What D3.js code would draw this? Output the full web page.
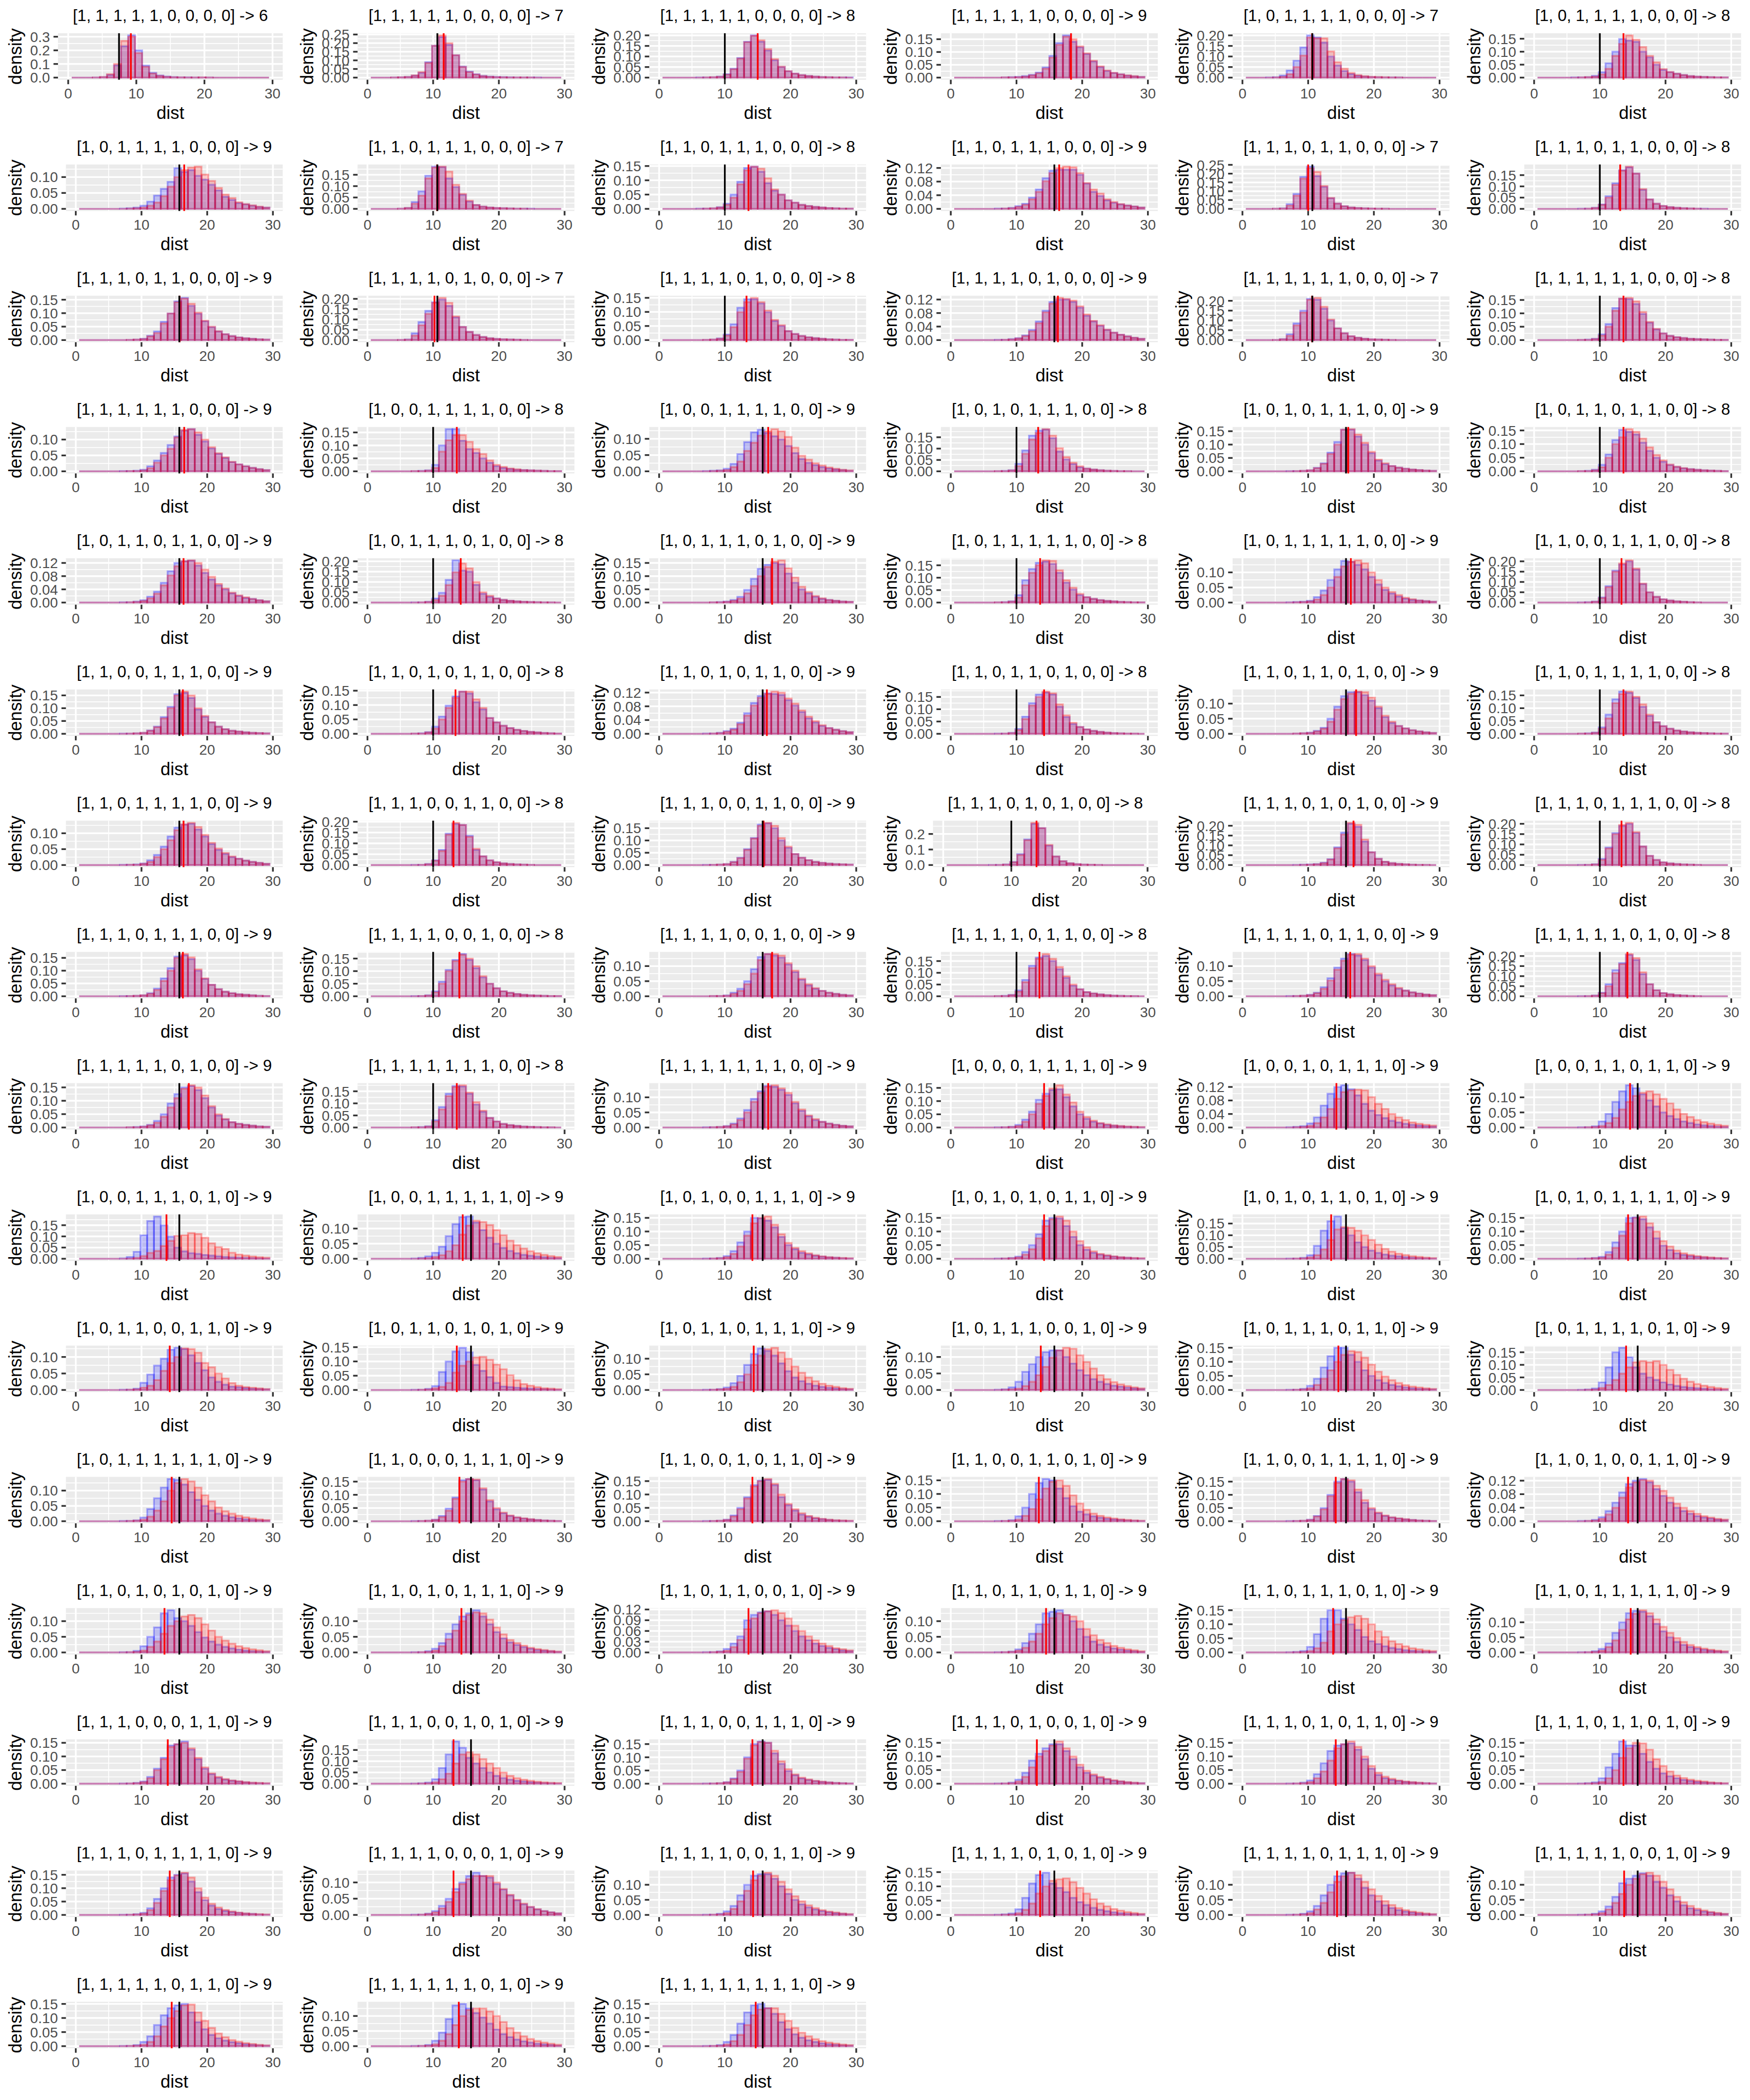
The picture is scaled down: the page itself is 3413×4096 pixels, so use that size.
<!DOCTYPE html>
<html><head><meta charset="utf-8">
<script src="https://cdn.jsdelivr.net/npm/d3@7"></script>
<style>html,body{margin:0;padding:0;background:#fff;}svg{display:block;}</style>
</head><body>
<script>
// ---------- DATA ----------
const titles = [
"[1, 1, 1, 1, 1, 0, 0, 0, 0] -> 6","[1, 1, 1, 1, 1, 0, 0, 0, 0] -> 7","[1, 1, 1, 1, 1, 0, 0, 0, 0] -> 8","[1, 1, 1, 1, 1, 0, 0, 0, 0] -> 9","[1, 0, 1, 1, 1, 1, 0, 0, 0] -> 7","[1, 0, 1, 1, 1, 1, 0, 0, 0] -> 8",
"[1, 0, 1, 1, 1, 1, 0, 0, 0] -> 9","[1, 1, 0, 1, 1, 1, 0, 0, 0] -> 7","[1, 1, 0, 1, 1, 1, 0, 0, 0] -> 8","[1, 1, 0, 1, 1, 1, 0, 0, 0] -> 9","[1, 1, 1, 0, 1, 1, 0, 0, 0] -> 7","[1, 1, 1, 0, 1, 1, 0, 0, 0] -> 8",
"[1, 1, 1, 0, 1, 1, 0, 0, 0] -> 9","[1, 1, 1, 1, 0, 1, 0, 0, 0] -> 7","[1, 1, 1, 1, 0, 1, 0, 0, 0] -> 8","[1, 1, 1, 1, 0, 1, 0, 0, 0] -> 9","[1, 1, 1, 1, 1, 1, 0, 0, 0] -> 7","[1, 1, 1, 1, 1, 1, 0, 0, 0] -> 8",
"[1, 1, 1, 1, 1, 1, 0, 0, 0] -> 9","[1, 0, 0, 1, 1, 1, 1, 0, 0] -> 8","[1, 0, 0, 1, 1, 1, 1, 0, 0] -> 9","[1, 0, 1, 0, 1, 1, 1, 0, 0] -> 8","[1, 0, 1, 0, 1, 1, 1, 0, 0] -> 9","[1, 0, 1, 1, 0, 1, 1, 0, 0] -> 8",
"[1, 0, 1, 1, 0, 1, 1, 0, 0] -> 9","[1, 0, 1, 1, 1, 0, 1, 0, 0] -> 8","[1, 0, 1, 1, 1, 0, 1, 0, 0] -> 9","[1, 0, 1, 1, 1, 1, 1, 0, 0] -> 8","[1, 0, 1, 1, 1, 1, 1, 0, 0] -> 9","[1, 1, 0, 0, 1, 1, 1, 0, 0] -> 8",
"[1, 1, 0, 0, 1, 1, 1, 0, 0] -> 9","[1, 1, 0, 1, 0, 1, 1, 0, 0] -> 8","[1, 1, 0, 1, 0, 1, 1, 0, 0] -> 9","[1, 1, 0, 1, 1, 0, 1, 0, 0] -> 8","[1, 1, 0, 1, 1, 0, 1, 0, 0] -> 9","[1, 1, 0, 1, 1, 1, 1, 0, 0] -> 8",
"[1, 1, 0, 1, 1, 1, 1, 0, 0] -> 9","[1, 1, 1, 0, 0, 1, 1, 0, 0] -> 8","[1, 1, 1, 0, 0, 1, 1, 0, 0] -> 9","[1, 1, 1, 0, 1, 0, 1, 0, 0] -> 8","[1, 1, 1, 0, 1, 0, 1, 0, 0] -> 9","[1, 1, 1, 0, 1, 1, 1, 0, 0] -> 8",
"[1, 1, 1, 0, 1, 1, 1, 0, 0] -> 9","[1, 1, 1, 1, 0, 0, 1, 0, 0] -> 8","[1, 1, 1, 1, 0, 0, 1, 0, 0] -> 9","[1, 1, 1, 1, 0, 1, 1, 0, 0] -> 8","[1, 1, 1, 1, 0, 1, 1, 0, 0] -> 9","[1, 1, 1, 1, 1, 0, 1, 0, 0] -> 8",
"[1, 1, 1, 1, 1, 0, 1, 0, 0] -> 9","[1, 1, 1, 1, 1, 1, 1, 0, 0] -> 8","[1, 1, 1, 1, 1, 1, 1, 0, 0] -> 9","[1, 0, 0, 0, 1, 1, 1, 1, 0] -> 9","[1, 0, 0, 1, 0, 1, 1, 1, 0] -> 9","[1, 0, 0, 1, 1, 0, 1, 1, 0] -> 9",
"[1, 0, 0, 1, 1, 1, 0, 1, 0] -> 9","[1, 0, 0, 1, 1, 1, 1, 1, 0] -> 9","[1, 0, 1, 0, 0, 1, 1, 1, 0] -> 9","[1, 0, 1, 0, 1, 0, 1, 1, 0] -> 9","[1, 0, 1, 0, 1, 1, 0, 1, 0] -> 9","[1, 0, 1, 0, 1, 1, 1, 1, 0] -> 9",
"[1, 0, 1, 1, 0, 0, 1, 1, 0] -> 9","[1, 0, 1, 1, 0, 1, 0, 1, 0] -> 9","[1, 0, 1, 1, 0, 1, 1, 1, 0] -> 9","[1, 0, 1, 1, 1, 0, 0, 1, 0] -> 9","[1, 0, 1, 1, 1, 0, 1, 1, 0] -> 9","[1, 0, 1, 1, 1, 1, 0, 1, 0] -> 9",
"[1, 0, 1, 1, 1, 1, 1, 1, 0] -> 9","[1, 1, 0, 0, 0, 1, 1, 1, 0] -> 9","[1, 1, 0, 0, 1, 0, 1, 1, 0] -> 9","[1, 1, 0, 0, 1, 1, 0, 1, 0] -> 9","[1, 1, 0, 0, 1, 1, 1, 1, 0] -> 9","[1, 1, 0, 1, 0, 0, 1, 1, 0] -> 9",
"[1, 1, 0, 1, 0, 1, 0, 1, 0] -> 9","[1, 1, 0, 1, 0, 1, 1, 1, 0] -> 9","[1, 1, 0, 1, 1, 0, 0, 1, 0] -> 9","[1, 1, 0, 1, 1, 0, 1, 1, 0] -> 9","[1, 1, 0, 1, 1, 1, 0, 1, 0] -> 9","[1, 1, 0, 1, 1, 1, 1, 1, 0] -> 9",
"[1, 1, 1, 0, 0, 0, 1, 1, 0] -> 9","[1, 1, 1, 0, 0, 1, 0, 1, 0] -> 9","[1, 1, 1, 0, 0, 1, 1, 1, 0] -> 9","[1, 1, 1, 0, 1, 0, 0, 1, 0] -> 9","[1, 1, 1, 0, 1, 0, 1, 1, 0] -> 9","[1, 1, 1, 0, 1, 1, 0, 1, 0] -> 9",
"[1, 1, 1, 0, 1, 1, 1, 1, 0] -> 9","[1, 1, 1, 1, 0, 0, 0, 1, 0] -> 9","[1, 1, 1, 1, 0, 0, 1, 1, 0] -> 9","[1, 1, 1, 1, 0, 1, 0, 1, 0] -> 9","[1, 1, 1, 1, 0, 1, 1, 1, 0] -> 9","[1, 1, 1, 1, 1, 0, 0, 1, 0] -> 9",
"[1, 1, 1, 1, 1, 0, 1, 1, 0] -> 9","[1, 1, 1, 1, 1, 1, 0, 1, 0] -> 9","[1, 1, 1, 1, 1, 1, 1, 1, 0] -> 9"
];

// vertical reference lines (x = dist)
const blackLine = [7.46,10.64,10,15.76,10.64,10, 15.76,10.64,10,15.76,10.64,10, 15.76,10.64,10,15.76,10.64,10,
 15.76,10,15.76,10,15.76,10, 15.76,10,15.76,10,15.76,10, 15.76,10,15.76,10,15.76,10, 15.76,10,15.76,10,15.76,10,
 15.76,10,15.76,10,15.76,10, 15.76,10,15.76,15.76,15.76,15.76,
 15.76,15.76,15.76,15.76,15.76,15.76, 15.76,15.76,15.76,15.76,15.76,15.76, 15.76,15.76,15.76,15.76,15.76,15.76,
 15.76,15.76,15.76,15.76,15.76,15.76, 15.76,15.76,15.76,15.76,15.76,15.76, 15.76,15.76,15.76,15.76,15.76,15.76, 15.76,15.76,15.76];
const redLine = [9.2,11.6,15.0,18.3,10.6,13.6, 16.5,10.6,13.6,16.5,10.0,13.1, 15.8,10.2,13.3,16.3,10.6,13.6,
 16.5,13.6,16.6,13.3,16.1,13.6, 16.4,14.2,17.2,13.6,16.5,13.3, 16.3,13.4,16.4,14.2,17.3,13.6, 16.4,13.1,15.9,13.7,16.9,13.3,
 16.3,14.0,17.2,13.5,16.4,14.2, 17.2,13.6,16.6,14.2,14.3,14.6, 13.8,14.5,14.2,14.2,13.5,14.3, 14.3,13.6,14.4,13.7,14.6,14.0,
 14.6,14.0,14.2,13.4,14.2,14.3, 13.5,14.3,13.6,14.5,13.8,14.7, 14.0,13.1,14.2,13.1,14.2,13.6, 14.3,13.1,14.3,13.6,14.4,13.7,
 14.6,13.9,14.7];

// y-axis break step per panel
const yStep = [0.1,0.05,0.05,0.05,0.05,0.05, 0.05,0.05,0.05,0.04,0.05,0.05, 0.05,0.05,0.05,0.04,0.05,0.05,
 0.05,0.05,0.05,0.05,0.05,0.05, 0.04,0.05,0.05,0.05,0.05,0.05, 0.05,0.05,0.04,0.05,0.05,0.05, 0.05,0.05,0.05,0.1,0.05,0.05,
 0.05,0.05,0.05,0.05,0.05,0.05, 0.05,0.05,0.05,0.05,0.04,0.05, 0.05,0.05,0.05,0.05,0.05,0.05, 0.05,0.05,0.05,0.05,0.05,0.05,
 0.05,0.05,0.05,0.05,0.05,0.04, 0.05,0.05,0.03,0.05,0.05,0.05, 0.05,0.05,0.05,0.05,0.05,0.05, 0.05,0.05,0.05,0.05,0.05,0.05,
 0.05,0.05,0.05];

const xTicks = [0, 10, 20, 30];
const xMinor = [5, 15, 25];

// histogram densities, per mille (density x 1000), 28 bins of width 30/29
const blueDensPermille = [
[0,0,0,1,4,20,90,230,310,200,88,35,16,8,4,2,2,1,1,1,0,0,0,0,0,0,0,0],
[0,0,0,1,2,4,12,28,90,185,235,190,130,64,35,20,10,6,4,3,2,1,1,1,1,0,0,0],
[0,0,0,0,0,1,1,2,5,16,42,93,170,200,170,128,82,50,30,19,12,8,5,3,2,1,1,1],
[0,0,0,0,0,0,0,1,2,3,6,11,20,40,85,135,165,140,118,92,63,41,26,18,13,8,5,3],
[0,0,0,1,2,10,34,80,143,200,190,166,100,57,31,17,9,5,3,2,1,1,1,0,0,0,0,0],
[0,0,0,0,0,1,1,2,7,21,55,100,149,143,138,100,78,50,30,21,15,10,6,4,3,2,1,1],
[0,0,0,0,0,0,1,2,4,10,23,42,63,85,128,116,122,104,92,76,58,38,28,18,14,10,6,4],
[0,0,0,0,1,4,30,77,146,186,184,134,96,62,32,17,10,6,4,3,2,1,1,1,0,0,0,0],
[0,0,0,0,0,1,1,2,6,18,50,95,143,148,130,90,64,50,30,22,14,10,7,5,3,2,1,1],
[0,0,0,0,0,0,1,1,3,8,15,33,57,90,112,115,115,115,100,74,50,38,25,18,13,10,7,4],
[0,0,0,0,1,3,27,85,182,240,186,125,60,30,15,8,5,3,2,1,1,0,0,0,0,0,0,0],
[0,0,0,0,0,0,1,1,5,20,56,114,172,185,157,85,42,23,13,8,5,3,2,1,1,0,0,0],
[0,0,0,0,0,0,0,1,2,5,16,32,68,99,144,157,127,98,70,48,32,22,15,10,7,5,3,2],
[0,0,0,0,1,3,33,88,142,184,197,166,110,64,40,25,15,9,6,4,3,2,1,0,0,0,0,0],
[0,0,0,0,0,0,1,2,6,20,56,115,145,145,130,99,68,50,32,22,15,10,7,5,3,2,1,1],
[0,0,0,0,0,0,1,1,3,6,14,30,55,87,113,120,120,113,96,72,55,42,30,22,16,11,7,4],
[0,0,0,0,1,5,30,85,150,210,205,160,100,60,35,20,12,7,4,3,2,1,0,0,0,0,0,0],
[0,0,0,0,0,0,1,2,5,22,60,120,155,153,135,98,65,40,25,16,11,8,5,4,3,2,1,1],
[0,0,0,0,0,0,1,1,2,5,16,34,58,83,110,128,133,115,94,72,55,42,29,22,16,11,7,4],
[0,0,0,0,0,0,1,2,4,25,100,163,163,118,86,71,50,33,20,13,9,6,5,4,3,2,1,1],
[0,0,0,0,0,0,1,2,3,8,23,53,90,120,128,118,108,98,78,56,38,26,19,13,9,6,4,2],
[0,0,0,0,0,0,1,2,5,33,92,157,179,184,146,87,52,32,18,12,8,5,3,2,1,1,0,0],
[0,0,0,0,0,0,1,1,2,4,13,30,70,110,156,156,130,100,68,40,27,20,14,10,7,5,3,2],
[0,0,0,0,0,0,1,2,6,24,62,115,152,145,135,105,75,50,35,23,16,11,8,6,4,3,2,1],
[0,0,0,0,0,0,1,1,3,7,18,33,60,95,120,125,127,112,90,70,52,40,28,20,14,11,7,4],
[0,0,0,0,0,0,1,1,4,20,48,110,205,155,150,86,43,28,20,13,9,6,4,3,2,1,1,0],
[0,0,0,0,0,0,0,1,2,4,10,22,48,90,128,143,150,145,110,75,50,35,22,14,10,7,4,3],
[0,0,0,0,0,0,1,2,5,30,90,135,160,165,155,120,80,52,30,22,15,10,7,5,3,2,1,1],
[0,0,0,0,0,0,1,2,3,6,18,40,75,110,138,135,125,110,85,60,42,30,20,13,9,7,5,3],
[0,0,0,0,0,0,1,2,5,25,80,155,185,200,160,90,50,28,16,10,6,4,2,1,0,0,0,0],
[0,0,0,0,0,0,1,1,2,4,13,28,65,105,155,160,140,95,66,45,28,18,12,9,6,4,3,2],
[0,0,0,0,0,0,1,2,6,25,60,98,130,147,140,110,85,55,40,28,20,14,10,7,5,3,2,1],
[0,0,0,0,0,0,1,1,3,8,15,32,60,90,110,118,116,113,98,82,63,45,33,23,17,12,8,5],
[0,0,0,0,0,0,1,1,4,20,70,125,160,168,160,110,68,40,28,18,12,8,5,3,2,1,1,0],
[0,0,0,0,0,0,0,1,2,4,10,20,50,90,125,138,138,128,110,85,55,36,26,18,12,8,5,3],
[0,0,0,0,0,0,1,2,5,25,75,135,165,160,140,105,70,45,30,20,13,9,6,4,3,2,1,1],
[0,0,0,0,0,0,1,1,2,5,15,32,58,90,118,127,130,112,90,66,48,35,25,20,14,10,7,4],
[0,0,0,0,0,0,1,1,5,22,70,145,190,185,135,70,40,22,13,8,5,3,2,1,0,0,0,0],
[0,0,0,0,0,0,1,1,2,4,13,30,65,110,165,170,150,100,70,45,30,20,13,9,6,4,3,2],
[0,0,0,0,0,0,1,1,4,20,70,165,265,238,125,55,25,12,6,3,2,1,0,0,0,0,0,0],
[0,0,0,0,0,0,0,1,2,3,5,12,30,90,165,210,195,120,65,32,17,10,6,4,2,1,1,0],
[0,0,0,0,0,0,1,1,4,30,85,155,190,200,155,90,45,25,13,8,5,3,2,1,0,0,0,0],
[0,0,0,0,0,0,1,1,2,4,12,30,70,110,155,160,145,100,68,45,28,18,12,8,6,4,2,1],
[0,0,0,0,0,0,1,1,4,20,58,105,145,168,145,112,75,50,32,20,14,9,6,4,3,2,1,1],
[0,0,0,0,0,0,0,1,1,3,12,25,50,90,130,140,135,128,105,80,55,36,25,18,12,8,5,3],
[0,0,0,0,0,0,1,2,6,25,70,130,165,172,150,115,78,45,30,18,12,8,5,3,2,1,1,0],
[0,0,0,0,0,0,1,1,2,5,12,30,60,95,125,140,135,120,95,70,50,36,25,19,13,9,6,4],
[0,0,0,0,0,0,1,1,4,18,60,130,165,205,180,110,60,30,16,10,6,4,2,1,0,0,0,0],
[0,0,0,0,0,0,0,1,2,4,10,25,50,90,125,150,155,140,110,75,45,30,20,14,10,7,4,3],
[0,0,0,0,0,0,1,2,5,30,85,140,172,170,140,95,65,40,25,15,10,7,4,3,2,1,1,0],
[0,0,0,0,0,0,1,1,2,5,13,30,58,95,120,138,135,125,108,80,55,37,25,19,13,9,6,4],
[0,0,0,0,0,0,1,1,3,10,30,60,105,128,142,145,115,80,50,33,22,15,10,7,5,3,2,1],
[0,0,0,0,0,0,1,2,4,12,30,65,100,120,125,113,95,70,50,37,28,20,15,11,8,6,4,3],
[0,0,0,0,0,0,1,1,4,20,45,85,120,140,130,110,90,70,50,38,28,20,15,10,7,5,3,2],
[0,0,0,0,0,0,2,8,31,105,169,189,149,99,50,33,25,22,17,14,11,8,6,5,4,3,2,1],
[0,0,0,0,0,0,1,3,8,20,40,75,115,138,140,120,95,70,50,36,26,18,13,10,7,5,3,2],
[0,0,0,0,0,0,1,1,3,10,28,60,100,150,148,140,115,80,50,35,22,16,11,8,5,4,2,1],
[0,0,0,0,0,0,1,1,3,8,25,50,90,140,150,148,120,80,50,33,22,15,11,8,5,4,2,1],
[0,0,0,0,0,0,1,1,4,15,55,120,160,180,130,100,70,50,35,25,18,13,10,7,5,3,2,1],
[0,0,0,0,0,0,1,1,3,7,25,60,100,150,152,145,115,75,48,32,20,14,10,7,5,3,2,1],
[0,0,0,0,0,0,1,1,4,22,47,74,95,122,128,124,105,82,60,38,25,16,10,8,6,4,3,2],
[0,0,0,0,0,0,1,1,4,14,63,100,135,148,132,88,67,45,25,12,10,8,6,5,4,3,2,1],
[0,0,0,0,0,0,1,1,3,8,22,45,80,115,133,125,110,85,60,40,28,20,14,10,7,5,3,2],
[0,0,0,0,0,0,1,2,8,25,55,78,100,115,120,120,100,80,60,45,33,25,18,13,10,7,5,3],
[0,0,0,0,0,0,1,1,4,15,40,80,120,150,150,125,100,70,50,35,25,18,13,9,6,4,3,2],
[0,0,0,0,0,0,1,2,6,30,90,150,168,130,90,65,50,40,30,22,16,12,9,7,5,3,2,1],
[0,0,0,0,0,0,1,1,3,12,40,75,110,138,135,120,95,70,50,35,25,18,13,9,6,4,3,2],
[0,0,0,0,0,0,1,1,2,6,20,48,90,155,160,155,120,75,45,30,20,14,10,7,5,3,2,1],
[0,0,0,0,0,0,1,1,2,6,22,50,90,135,152,155,135,90,60,40,25,17,11,8,5,3,2,1],
[0,0,0,0,0,0,1,1,4,18,50,100,140,155,150,120,85,55,35,25,18,13,9,7,5,3,2,1],
[0,0,0,0,0,0,1,1,2,6,20,50,100,150,160,150,110,70,45,30,20,14,10,7,5,3,2,1],
[0,0,0,0,0,0,1,1,4,12,30,55,85,110,120,125,115,95,75,55,40,30,22,15,11,8,5,3],
[0,0,0,0,0,0,1,1,5,20,50,80,125,135,110,100,85,65,48,35,25,18,13,9,6,4,3,2],
[0,0,0,0,0,0,1,1,4,12,30,60,90,115,125,135,115,90,65,45,32,24,17,12,8,6,4,2],
[0,0,0,0,0,0,1,1,3,10,25,45,90,105,112,115,105,90,75,60,45,34,25,18,13,9,6,4],
[0,0,0,0,0,0,1,1,3,10,30,60,90,125,130,135,120,100,75,50,35,25,18,13,9,6,4,2],
[0,0,0,0,0,0,1,2,5,20,65,120,150,150,120,100,80,55,40,30,22,16,12,8,6,4,3,2],
[0,0,0,0,0,0,1,1,4,12,30,65,100,130,138,135,120,95,70,50,35,25,18,13,9,6,4,2],
[0,0,0,0,0,0,1,1,3,8,25,55,95,140,145,155,125,90,55,35,22,15,11,8,5,3,2,1],
[0,0,0,0,0,0,1,2,5,20,70,130,188,160,115,90,70,50,35,25,18,13,10,7,5,3,2,1],
[0,0,0,0,0,0,1,1,2,6,20,50,100,150,160,155,115,75,48,32,20,14,10,7,5,3,2,1],
[0,0,0,0,0,0,1,1,4,15,40,85,110,130,145,145,120,90,60,40,30,22,16,11,8,5,3,2],
[0,0,0,0,0,0,1,1,4,12,35,75,120,140,145,148,125,90,55,32,20,14,10,7,5,3,2,1],
[0,0,0,0,0,0,1,2,5,20,60,110,155,140,140,110,80,55,38,27,20,14,10,7,5,3,2,1],
[0,0,0,0,0,0,1,1,3,8,25,60,100,140,150,155,125,85,55,35,22,15,11,8,5,4,2,1],
[0,0,0,0,0,0,1,1,4,12,28,50,80,100,120,130,120,115,95,78,60,45,33,24,17,12,8,5],
[0,0,0,0,0,0,1,1,4,12,30,65,100,130,135,135,120,95,70,50,35,25,18,13,9,6,4,2],
[0,0,0,0,0,0,1,2,5,20,60,110,140,148,110,95,80,60,45,35,25,18,13,9,6,4,3,2],
[0,0,0,0,0,0,1,1,4,12,30,65,100,128,138,140,120,90,65,45,32,23,16,11,8,5,3,2],
[0,0,0,0,0,0,1,1,4,12,28,60,105,120,130,138,130,110,90,65,45,32,22,16,11,8,5,3],
[0,0,0,0,0,0,1,1,4,15,35,75,110,135,145,150,120,85,60,40,28,20,14,10,7,5,3,2],
[0,0,0,0,0,0,1,1,4,18,45,90,135,140,125,110,95,75,55,40,30,22,16,12,8,6,4,2],
[0,0,0,0,0,0,1,1,4,15,40,80,120,145,150,135,115,85,60,42,30,21,15,10,7,5,3,2]
];
const redDensPermille = [
[0,0,0,1,5,25,100,270,300,180,80,30,13,6,3,2,1,1,2,1,0,0,0,0,0,0,0,0],
[0,0,0,1,2,4,13,32,85,185,245,200,130,62,32,18,9,5,3,2,1,1,1,1,0,0,0,0],
[0,0,0,0,0,0,1,2,4,14,40,90,168,198,177,135,88,52,31,19,12,8,5,3,2,1,1,0],
[0,0,0,0,0,0,0,1,1,2,4,9,17,35,78,128,160,150,122,95,66,44,28,19,13,9,6,3],
[0,0,0,0,1,4,16,50,104,190,186,186,124,73,42,22,12,7,4,3,2,1,1,0,0,0,0,0],
[0,0,0,0,0,0,1,2,4,12,34,84,130,163,146,118,84,59,33,22,15,10,6,4,3,2,1,1],
[0,0,0,0,0,0,0,1,2,4,10,20,40,70,100,122,130,133,108,88,66,45,34,21,15,11,7,4],
[0,0,0,0,1,4,23,58,134,182,186,164,106,66,36,17,10,6,4,3,2,1,1,0,0,0,0,0],
[0,0,0,0,0,0,1,2,5,14,39,86,135,148,141,107,68,50,30,22,14,10,7,5,3,2,1,1],
[0,0,0,0,0,0,0,1,2,6,12,28,50,81,105,120,124,122,105,76,57,45,28,20,14,10,7,4],
[0,0,0,0,1,2,19,75,172,230,210,130,62,30,15,8,5,3,2,1,1,0,0,0,0,0,0,0],
[0,0,0,0,0,0,0,1,4,18,50,107,170,188,157,88,42,23,13,8,5,3,2,1,0,0,0,0],
[0,0,0,0,0,0,0,1,2,4,14,26,62,99,141,154,135,102,72,50,33,22,15,10,7,5,3,2],
[0,0,0,0,1,2,22,72,127,181,205,181,115,64,40,25,15,9,6,4,3,2,1,0,0,0,0,0],
[0,0,0,0,0,0,1,2,5,16,46,99,135,150,135,105,72,53,32,22,15,10,7,5,3,2,1,1],
[0,0,0,0,0,0,0,1,2,5,12,26,50,82,108,125,122,117,100,76,57,44,31,22,16,11,7,4],
[0,0,0,0,1,4,22,75,140,205,215,170,105,60,35,20,12,7,4,3,2,1,0,0,0,0,0,0],
[0,0,0,0,0,0,1,1,4,17,50,110,155,158,145,105,68,42,25,16,11,8,5,4,3,2,1,1],
[0,0,0,0,0,0,0,1,1,3,10,27,50,71,107,130,133,123,100,76,57,44,30,22,16,11,7,4],
[0,0,0,0,0,0,1,1,3,13,76,120,140,140,114,86,67,42,25,17,11,8,5,4,3,2,1,1],
[0,0,0,0,0,0,0,1,2,4,13,30,63,88,110,123,130,123,106,73,48,36,25,18,12,8,5,3],
[0,0,0,0,0,0,1,1,4,23,77,140,169,186,157,102,63,38,22,12,8,5,3,2,1,1,0,0],
[0,0,0,0,0,0,0,1,2,4,12,28,65,100,156,158,138,107,73,44,30,20,14,10,7,5,3,2],
[0,0,0,0,0,0,1,1,4,15,50,100,125,155,145,120,88,60,40,25,17,12,8,6,4,3,2,1],
[0,0,0,0,0,0,0,1,2,5,13,27,52,82,110,125,128,120,100,78,57,43,30,22,16,11,7,4],
[0,0,0,0,0,0,0,1,3,12,33,85,147,190,166,100,50,33,20,13,9,6,4,3,2,1,1,0],
[0,0,0,0,0,0,0,1,1,3,7,15,35,63,100,135,155,160,130,95,60,40,25,16,10,7,4,3],
[0,0,0,0,0,0,1,1,4,20,70,120,150,170,168,130,90,60,35,22,15,10,7,5,3,2,1,1],
[0,0,0,0,0,0,0,1,2,4,10,25,50,85,120,135,140,130,100,75,50,35,25,16,11,7,5,3],
[0,0,0,0,0,0,0,1,4,22,75,150,190,205,165,92,50,28,16,10,6,4,2,1,0,0,0,0],
[0,0,0,0,0,0,0,1,2,4,12,26,60,100,150,165,150,100,70,45,28,18,12,9,6,4,3,2],
[0,0,0,0,0,0,1,1,5,18,50,90,125,147,147,120,90,55,40,28,20,14,10,7,5,3,2,1],
[0,0,0,0,0,0,0,1,2,6,12,28,53,82,105,116,123,120,103,88,68,50,37,25,17,12,8,5],
[0,0,0,0,0,0,0,1,3,15,60,115,150,172,165,120,75,45,28,18,12,8,5,3,2,1,1,0],
[0,0,0,0,0,0,0,1,2,3,8,17,40,80,115,133,140,138,120,90,60,40,26,18,12,8,5,3],
[0,0,0,0,0,0,1,1,4,20,60,120,155,165,145,115,75,45,30,20,13,9,6,4,3,2,1,1],
[0,0,0,0,0,0,0,1,1,4,10,25,50,78,110,128,133,120,95,70,52,38,27,20,14,10,7,4],
[0,0,0,0,0,0,0,1,4,20,65,140,195,185,130,75,40,22,13,8,5,3,2,1,0,0,0,0],
[0,0,0,0,0,0,0,1,2,4,12,28,62,108,160,172,160,110,75,45,30,20,13,9,6,4,3,2],
[0,0,0,0,0,0,0,1,3,18,65,160,272,238,130,55,25,12,6,3,2,1,0,0,0,0,0,0],
[0,0,0,0,0,0,0,0,1,2,4,10,28,85,155,215,205,130,65,32,17,10,6,4,2,1,1,0],
[0,0,0,0,0,0,0,1,3,25,80,150,195,205,160,90,45,25,13,8,5,3,2,1,0,0,0,0],
[0,0,0,0,0,0,0,1,2,4,10,25,60,100,150,165,152,105,70,45,28,18,12,8,6,4,2,1],
[0,0,0,0,0,0,0,1,3,16,50,100,140,165,150,120,80,50,32,20,14,9,6,4,3,2,1,1],
[0,0,0,0,0,0,0,1,1,2,8,18,40,75,120,140,140,135,110,85,58,40,27,18,12,8,5,3],
[0,0,0,0,0,0,1,1,5,20,60,120,160,180,160,125,85,50,30,18,12,8,5,3,2,1,1,0],
[0,0,0,0,0,0,0,1,2,4,10,25,52,88,118,138,140,125,100,75,55,40,28,19,13,9,6,4],
[0,0,0,0,0,0,0,1,3,15,50,115,160,210,190,120,60,30,16,10,6,4,2,1,0,0,0,0],
[0,0,0,0,0,0,0,1,1,3,8,18,40,75,110,145,158,150,120,80,50,32,20,14,10,7,4,3],
[0,0,0,0,0,0,1,1,4,25,75,130,168,175,145,105,70,40,25,15,10,7,4,3,2,1,1,0],
[0,0,0,0,0,0,0,1,2,4,10,25,50,85,115,135,140,130,115,85,60,40,28,19,13,9,6,4],
[0,0,0,0,0,0,0,1,2,6,22,50,90,120,148,160,125,95,60,40,26,17,12,8,6,4,3,2],
[0,0,0,0,0,0,0,1,2,5,13,30,55,85,105,110,112,110,90,70,55,40,30,22,15,11,8,6],
[0,0,0,0,0,0,0,1,2,5,15,32,60,85,105,115,120,110,95,80,60,45,35,25,18,13,9,6],
[0,0,0,0,0,0,0,1,4,12,26,35,57,80,102,105,115,111,94,69,52,44,27,19,14,10,7,5],
[0,0,0,0,0,0,0,1,2,6,12,25,45,80,110,126,122,112,95,78,60,45,34,25,18,13,9,6],
[0,0,0,0,0,0,0,1,2,6,18,45,85,130,150,155,125,90,58,40,28,20,13,9,6,4,3,2],
[0,0,0,0,0,0,0,1,2,5,15,35,75,120,145,155,140,100,65,42,27,18,13,9,6,4,3,2],
[0,0,0,0,0,0,0,1,2,6,15,40,80,125,135,132,120,100,80,60,42,30,22,16,11,8,5,3],
[0,0,0,0,0,0,0,1,2,4,15,40,85,130,150,155,130,100,65,45,30,20,14,10,7,5,3,2],
[0,0,0,0,0,0,0,1,2,7,13,30,58,82,100,126,124,113,82,69,50,35,21,13,9,7,5,3],
[0,0,0,0,0,0,0,1,2,6,11,25,61,85,100,114,116,106,89,73,52,34,21,15,10,6,5,3],
[0,0,0,0,0,0,0,1,2,4,10,25,50,80,110,130,135,120,100,75,55,40,28,20,14,10,6,4],
[0,0,0,0,0,0,0,1,2,4,12,25,45,70,98,120,128,125,105,85,65,45,33,24,17,12,8,5],
[0,0,0,0,0,0,0,1,2,6,18,40,70,100,125,138,135,115,90,65,48,35,25,17,12,9,6,4],
[0,0,0,0,0,0,0,1,2,8,20,40,65,90,110,115,110,115,100,80,60,45,33,24,17,12,8,5],
[0,0,0,0,0,0,0,1,2,5,15,35,65,100,125,138,130,110,85,65,45,33,25,18,13,9,6,4],
[0,0,0,0,0,0,0,1,2,5,16,40,85,150,160,158,125,80,50,33,22,15,11,8,5,3,2,1],
[0,0,0,0,0,0,0,1,2,5,18,45,85,130,150,158,140,100,65,45,30,20,13,9,6,4,3,2],
[0,0,0,0,0,0,0,1,2,6,20,45,80,120,145,150,130,95,65,42,28,20,14,10,7,5,3,2],
[0,0,0,0,0,0,0,1,2,5,18,45,95,145,160,155,120,80,50,33,22,15,11,8,5,3,2,1],
[0,0,0,0,0,0,0,1,2,7,20,40,70,100,115,122,120,105,90,70,52,40,30,22,15,11,7,5],
[0,0,0,0,0,0,0,1,2,6,18,35,60,85,100,115,120,110,90,70,50,38,28,20,14,10,7,4],
[0,0,0,0,0,0,0,1,2,6,20,42,70,100,120,128,125,105,80,58,40,30,22,15,11,8,5,3],
[0,0,0,0,0,0,0,1,2,5,15,35,65,95,110,115,118,110,95,75,60,45,34,25,18,12,9,6],
[0,0,0,0,0,0,0,1,2,6,15,35,60,90,110,125,120,115,100,75,55,40,30,21,15,10,7,4],
[0,0,0,0,0,0,0,1,2,5,15,35,75,100,115,125,130,120,100,75,55,40,30,22,15,11,7,5],
[0,0,0,0,0,0,0,1,2,6,18,40,75,110,128,140,130,110,85,65,48,35,25,18,13,9,6,4],
[0,0,0,0,0,0,0,1,2,6,20,50,90,135,145,150,130,95,60,38,25,17,12,9,6,4,3,2],
[0,0,0,0,0,0,0,1,2,6,20,45,90,130,140,130,110,90,70,50,35,25,18,13,9,6,4,3],
[0,0,0,0,0,0,0,1,2,5,17,45,95,145,158,155,125,85,55,35,23,16,11,8,5,3,2,1],
[0,0,0,0,0,0,0,1,2,8,25,60,100,120,140,155,130,100,70,48,34,25,18,13,9,6,4,2],
[0,0,0,0,0,0,0,1,2,6,20,45,85,130,145,155,135,100,65,40,26,18,12,8,6,4,2,1],
[0,0,0,0,0,0,0,1,2,6,20,50,95,130,150,148,125,90,65,45,30,21,15,11,8,5,3,2],
[0,0,0,0,0,0,0,1,2,5,18,45,90,130,148,158,140,100,65,42,28,19,13,9,6,4,3,2],
[0,0,0,0,0,0,0,1,3,8,20,40,70,95,110,120,120,120,100,80,62,47,35,25,18,12,8,5],
[0,0,0,0,0,0,0,1,2,6,20,45,80,115,130,140,130,110,85,62,45,32,23,16,11,8,5,3],
[0,0,0,0,0,0,0,1,2,6,18,40,75,100,120,125,128,115,95,75,55,40,30,21,15,10,7,4],
[0,0,0,0,0,0,0,1,2,6,18,40,75,110,128,140,132,110,85,63,46,33,23,16,11,8,5,3],
[0,0,0,0,0,0,0,1,2,6,18,40,70,100,120,135,140,130,110,85,60,42,30,21,15,10,7,4],
[0,0,0,0,0,0,0,1,2,5,15,35,70,100,125,145,148,120,90,65,45,32,22,16,11,8,5,3],
[0,0,0,0,0,0,0,1,2,6,18,40,70,100,120,125,125,115,100,80,60,45,33,24,17,12,8,5],
[0,0,0,0,0,0,0,1,2,6,18,40,75,110,130,135,135,115,90,65,48,35,25,18,13,9,6,4]
];

// ---------- DRAWING ----------
const WIDTH = 3413, HEIGHT = 4096;
const S = WIDTH / 4500;
const FONT = "'Liberation Sans', Arial, Helvetica, sans-serif";
const NCOL = 6;
const cellW = 750 * S, cellH = 337.5 * S;
const LW = 4.45 * S;
const fsTitle = 41.7 * S, fsTick = 36.7 * S, fsAxis = 45.8 * S;
const binW = 30 / 29;

const svg = d3.select("body").append("svg")
  .attr("width", WIDTH).attr("height", HEIGHT)
  .attr("xmlns", "http://www.w3.org/2000/svg");
svg.append("rect").attr("width", WIDTH).attr("height", HEIGHT).attr("fill", "#ffffff");

const meas = svg.append("text").attr("font-family", FONT).attr("font-size", fsTick).attr("opacity", 0);
const textWidth = s => { meas.text(s); return meas.node().getComputedTextLength(); };

const bad = [];
titles.forEach((title, i) => {
  const col = i % NCOL, row = Math.floor(i / NCOL);
  const ox = col * cellW, oy = row * cellH;
  const blue = blueDensPermille[i].map(v => v / 1000);
  const red = redDensPermille[i].map(v => v / 1000);
  if (blue.length !== 28 || red.length !== 28) bad.push(i + 1);
  const ymax = d3.max(blue.concat(red));
  const step = yStep[i];
  const n = Math.floor(1.05 * ymax / step + 1e-6);
  const majors = d3.range(n + 1).map(j => j * step);
  const minors = d3.range(n + 1).map(j => (j + 0.5) * step).filter(v => v <= 1.05 * ymax);
  const dec = step >= 0.1 ? 1 : 2;
  const labels = majors.map(v => v.toFixed(dec));
  const wLab = d3.max(labels, textWidth);

  const pl = ox + 98.1 * S + wLab, pr = ox + 727.1 * S;
  const pt = oy + 85.5 * S, pb = oy + 205 * S;
  const x = d3.scaleLinear().domain([-1.5, 31.5]).range([pl, pr]);
  const y = d3.scaleLinear().domain([-0.05 * ymax, 1.05 * ymax]).range([pb, pt]);

  const g = svg.append("g");
  g.append("rect").attr("x", pl).attr("y", pt).attr("width", pr - pl).attr("height", pb - pt).attr("fill", "#EBEBEB");

  // grid
  g.selectAll(null).data(minors).join("line")
    .attr("x1", pl).attr("x2", pr).attr("y1", d => y(d)).attr("y2", d => y(d))
    .attr("stroke", "#fff").attr("stroke-width", LW / 2);
  g.selectAll(null).data(xMinor).join("line")
    .attr("y1", pt).attr("y2", pb).attr("x1", d => x(d)).attr("x2", d => x(d))
    .attr("stroke", "#fff").attr("stroke-width", LW / 2);
  g.selectAll(null).data(majors).join("line")
    .attr("x1", pl).attr("x2", pr).attr("y1", d => y(d)).attr("y2", d => y(d))
    .attr("stroke", "#fff").attr("stroke-width", LW);
  g.selectAll(null).data(xTicks).join("line")
    .attr("y1", pt).attr("y2", pb).attr("x1", d => x(d)).attr("x2", d => x(d))
    .attr("stroke", "#fff").attr("stroke-width", LW);

  // histograms
  const drawBars = (vals, color) => g.append("g").selectAll("path").data(vals).join("path")
    .attr("d", (v, j) => {
      const x0 = x((j + 0.5) * binW), x1 = x((j + 1.5) * binW), y0 = y(0), y1 = y(v);
      return `M${x0},${y0}V${y1}H${x1}V${y0}Z`;
    })
    .attr("fill", color).attr("fill-opacity", 0.2)
    .attr("stroke", color).attr("stroke-opacity", 0.3).attr("stroke-width", LW);
  drawBars(blue, "#0000FF");
  drawBars(red, "#FF0000");

  // vertical lines
  g.append("line").attr("x1", x(redLine[i])).attr("x2", x(redLine[i])).attr("y1", pt).attr("y2", pb)
    .attr("stroke", "#FF0000").attr("stroke-width", LW);
  g.append("line").attr("x1", x(blackLine[i])).attr("x2", x(blackLine[i])).attr("y1", pt).attr("y2", pb)
    .attr("stroke", "#000000").attr("stroke-width", LW);

  // axis ticks
  const tickLen = 11.5 * S;
  g.selectAll(null).data(xTicks).join("line")
    .attr("x1", d => x(d)).attr("x2", d => x(d)).attr("y1", pb).attr("y2", pb + tickLen)
    .attr("stroke", "#333333").attr("stroke-width", LW);
  g.selectAll(null).data(majors).join("line")
    .attr("y1", d => y(d)).attr("y2", d => y(d)).attr("x1", pl - tickLen).attr("x2", pl)
    .attr("stroke", "#333333").attr("stroke-width", LW);

  // tick labels
  g.selectAll(null).data(xTicks).join("text")
    .attr("x", d => x(d)).attr("y", oy + 253 * S)
    .attr("text-anchor", "middle").attr("font-family", FONT).attr("font-size", fsTick).attr("fill", "#4D4D4D")
    .text(d => String(d));
  g.selectAll(null).data(majors).join("text")
    .attr("x", pl - tickLen - 9.2 * S).attr("y", d => y(d) + 0.36 * fsTick)
    .attr("text-anchor", "end").attr("font-family", FONT).attr("font-size", fsTick).attr("fill", "#4D4D4D")
    .text((d, k) => labels[k]);

  // axis titles
  g.append("text").attr("x", (pl + pr) / 2).attr("y", oy + 306 * S)
    .attr("text-anchor", "middle").attr("font-family", FONT).attr("font-size", fsAxis).attr("fill", "#000")
    .text("dist");
  g.append("text").attr("transform", `translate(${ox + 56 * S},${(pt + pb) / 2}) rotate(-90)`)
    .attr("text-anchor", "middle").attr("font-family", FONT).attr("font-size", fsAxis).attr("fill", "#000")
    .text("density");

  // title
  g.append("text").attr("x", (pl + pr) / 2).attr("y", oy + 54.5 * S)
    .attr("text-anchor", "middle").attr("font-family", FONT).attr("font-size", fsTitle).attr("fill", "#000")
    .text(title);
});
meas.remove();
if (bad.length) {
  svg.append("text").attr("x", 2000).attr("y", 3950).attr("font-size", 60).attr("fill", "red")
    .text("BAD LENGTH: " + bad.join(","));
}
</script>
</body></html>
